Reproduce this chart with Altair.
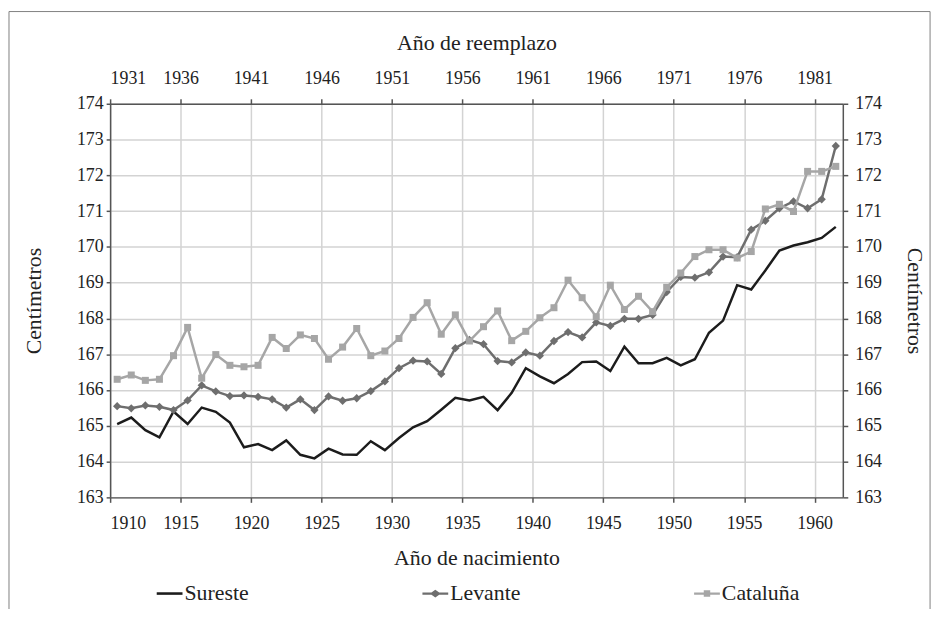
import altair as alt
import pandas as pd

years = list(range(1910, 1962))

sureste = [165.05, 165.23, 164.88, 164.68, 165.40, 165.05, 165.51, 165.39, 165.09, 164.40,
           164.49, 164.32, 164.59, 164.19, 164.09, 164.36, 164.20, 164.19, 164.57, 164.32,
           164.66, 164.96, 165.13, 165.45, 165.78, 165.71, 165.81, 165.44, 165.92, 166.61,
           166.38, 166.19, 166.45, 166.78, 166.80, 166.53, 167.21, 166.75, 166.75, 166.90,
           166.69, 166.86, 167.60, 167.94, 168.93, 168.81, 169.34, 169.90, 170.04, 170.13,
           170.25, 170.56]

levante = [165.55, 165.49, 165.57, 165.53, 165.44, 165.71, 166.13, 165.96, 165.83, 165.85,
           165.81, 165.74, 165.51, 165.74, 165.44, 165.82, 165.70, 165.77, 165.97, 166.24,
           166.61, 166.82, 166.80, 166.45, 167.17, 167.40, 167.28, 166.81, 166.77, 167.05,
           166.96, 167.37, 167.62, 167.47, 167.89, 167.79, 167.99, 167.99, 168.10, 168.74,
           169.16, 169.14, 169.29, 169.73, 169.71, 170.48, 170.73, 171.08, 171.27, 171.08,
           171.33, 172.82]

cataluna = [166.30, 166.42, 166.27, 166.30, 166.96, 167.75, 166.33, 166.99, 166.69, 166.65,
            166.69, 167.47, 167.16, 167.54, 167.44, 166.86, 167.20, 167.72, 166.96, 167.09,
            167.44, 168.03, 168.44, 167.56, 168.10, 167.37, 167.77, 168.21, 167.38, 167.64,
            168.02, 168.30, 169.07, 168.58, 168.05, 168.93, 168.25, 168.62, 168.19, 168.87,
            169.27, 169.73, 169.92, 169.92, 169.69, 169.87, 171.06, 171.19, 170.99, 172.11,
            172.11, 172.25]

series_names = ["Sureste", "Levante", "Cataluña"]
series_colors = ["#1c1c1c", "#6e6e6e", "#a6a6a6"]
x_ticks = list(range(1910, 1961, 5))
y_ticks = list(range(163, 175))
reemplazo_offset = 21

FONT = "Liberation Serif"
AX = "#555555"
TXT = "#222222"

df = pd.DataFrame({
    "year": years * 3,
    "value": sureste + levante + cataluna,
    "series": ["Sureste"] * len(years) + ["Levante"] * len(years) + ["Cataluña"] * len(years),
})

base = alt.Chart(df).transform_calculate(xpos="datum.year + 0.5")

xscale = alt.Scale(domain=[1910, 1962], nice=False, zero=False)
yscale = alt.Scale(domain=[163, 174], nice=False, zero=False)

x_bottom = alt.X("xpos:Q", scale=xscale, axis=alt.Axis(
    orient="bottom", values=x_ticks, format="d", grid=True, gridColor="#d3d3d3", gridWidth=1.5,
    tickSize=5, labelPadding=12, title="Año de nacimiento", titlePadding=16))
y_left = alt.Y("value:Q", scale=yscale, axis=alt.Axis(
    orient="left", values=y_ticks, format="d", grid=True, gridColor="#d3d3d3", gridWidth=1.5,
    tickSize=4, labelPadding=3, title="Centímetros", titlePadding=31))
x_top = alt.X("xpos:Q", scale=xscale, axis=alt.Axis(
    orient="top", values=x_ticks, labelExpr="'' + (datum.value + %d)" % reemplazo_offset,
    grid=False, tickSize=5, labelPadding=11, title="Año de reemplazo", titlePadding=16))
y_right = alt.Y("value:Q", scale=yscale, axis=alt.Axis(
    orient="right", values=y_ticks, format="d", grid=False,
    tickSize=5, labelPadding=7, title="Centímetros", titlePadding=21))

sur = base.transform_filter(alt.datum.series == "Sureste").mark_line(
    color=series_colors[0], strokeWidth=2.5).encode(x=x_bottom, y=y_left)

lev = base.transform_filter(alt.datum.series == "Levante").mark_line(
    color=series_colors[1], strokeWidth=2.5,
    point=alt.OverlayMarkDef(shape="diamond", filled=True, size=70, color=series_colors[1])
).encode(x=x_top, y=y_right)

cat = base.transform_filter(alt.datum.series == "Cataluña").mark_line(
    color=series_colors[2], strokeWidth=2.5,
    point=alt.OverlayMarkDef(shape="square", filled=True, size=50, color=series_colors[2])
).encode(x=alt.X("xpos:Q", scale=xscale, axis=None), y=alt.Y("value:Q", scale=yscale, axis=None))

legend_paths = [
    "M-1,-0.1H1V0.1H-1Z",
    "M-1,-0.09H-0.3L0,-0.3L0.3,-0.09H1V0.09H0.3L0,0.3L-0.3,0.09H-1Z",
    "M-1,-0.09H-0.25V-0.25H0.25V-0.09H1V0.09H0.25V0.25H-0.25V0.09H-1Z",
]
leg_common = dict(
    orient="none", legendX=47, legendY=481, direction="horizontal", columns=3,
    columnPadding=175, symbolSize=676, symbolStrokeWidth=0, labelOffset=2, title=None, padding=0,
)
legend_layer = base.transform_filter("false").mark_point(filled=True, opacity=1).encode(
    color=alt.Color("series:N", scale=alt.Scale(domain=series_names, range=series_colors),
                    legend=alt.Legend(**leg_common)),
    shape=alt.Shape("series:N", scale=alt.Scale(domain=series_names, range=legend_paths),
                    legend=alt.Legend(**leg_common)),
)

frame = alt.Chart(pd.DataFrame({"a": [0]})).mark_rect(
    filled=False, stroke="#808080", strokeWidth=1).encode(
    x=alt.value(-102), x2=alt.value(827), y=alt.value(-93), y2=alt.value(540))

chart = alt.layer(frame, sur, lev, cat, legend_layer).resolve_axis(
    x="independent", y="independent"
).properties(
    width=739, height=397,
    autosize=alt.AutoSizeParams(type="none"),
    padding={"left": 103, "top": 94, "right": 96, "bottom": 110},
).configure(
    font=FONT,
    style={"guide-label": {"font": FONT}, "guide-title": {"font": FONT}},
).configure_view(
    stroke=None
).configure_axis(
    domainColor=AX, domainWidth=1.5, tickColor=AX, tickWidth=1.5,
    labelFont=FONT, labelColor=TXT, labelFontSize=18,
    titleFont=FONT, titleColor=TXT, titleFontSize=22, titleFontWeight="normal",
).configure_legend(
    labelFont=FONT, labelFontSize=22, labelColor=TXT,
)

chart.save("out.html", embed_options={"renderer": "svg", "actions": False})
